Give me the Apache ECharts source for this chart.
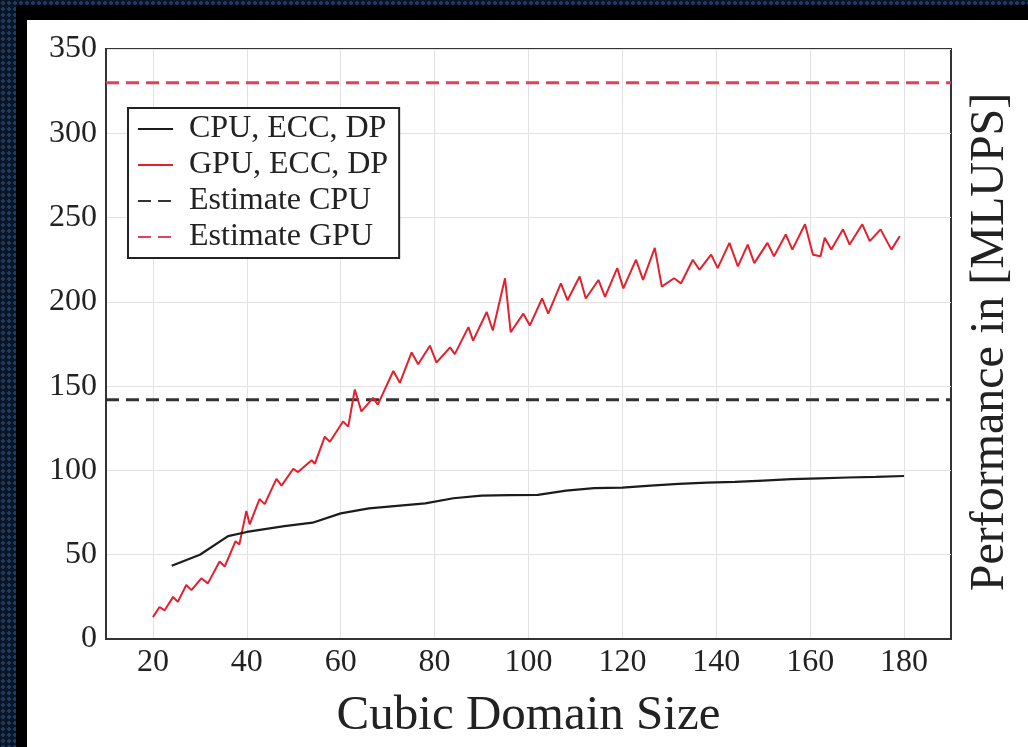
<!DOCTYPE html>
<html>
<head>
<meta charset="utf-8">
<script src="https://cdn.jsdelivr.net/npm/echarts@6/dist/echarts.min.js"></script>
<style>
  html, body { margin: 0; padding: 0; width: 1028px; height: 747px; overflow: hidden; background: #000; }
  .pat { position: absolute; background-color: #0a1526;
         background-image: radial-gradient(#1f3a60 38%, transparent 42%);
         background-size: 6px 6px; }
  #chart { position: absolute; left: 27px; top: 20px; width: 1001px; height: 727px; background: #fff; }
</style>
</head>
<body>
<div class="pat" style="left:0;top:0;width:16px;height:747px;"></div>
<div class="pat" style="left:0;top:0;width:1028px;height:5px;"></div>
<div id="chart"></div>
<script>
// ---- data ----
const sizeTicks = [20, 40, 60, 80, 100, 120, 140, 160, 180];
const perfTicks = [0, 50, 100, 150, 200, 250, 300, 350];
const sizeRange = [10, 190];

const cpuSize = [24, 30, 36, 40, 48, 54, 60, 66, 72, 78, 84, 90, 96, 102, 108, 114, 120, 126, 132, 138, 144, 150, 156, 162, 168, 174, 180];
const cpuPerf = [43.5, 50, 61, 63.5, 67, 69, 74.5, 77.5, 79, 80.5, 83.5, 85, 85.3, 85.5, 88, 89.5, 89.8, 91, 92, 92.8, 93.2, 94, 94.8, 95.3, 95.8, 96.2, 96.7];

const gpuSize = [20, 21.4, 22.5, 24.3, 25.3, 27.1, 28.2, 30.3, 31.7, 34.2, 35.3, 37.6, 38.4, 39.9, 40.6,
  42.7, 43.8, 46.3, 47.4, 49.9, 50.9, 53.8, 54.5, 56.6, 57.7, 60.5, 61.6, 63, 64.4, 66.9, 67.9,
  71.2, 72.6, 75.1, 76.5, 79, 80.4, 83.3, 84.3, 87.2, 88.2, 91.1, 92.4, 95, 96.2, 98.9, 100.3,
  102.9, 104.2, 106.9, 108.3, 110.9, 112.2, 114.9, 116.3, 118.9, 120.2, 122.9, 124.4, 126.9, 128.4,
  131, 132.5, 135, 136.4, 138.9, 140.3, 142.8, 144.6, 146.7, 148.1, 150.9, 152.3, 154.8, 156.2,
  158.9, 160.6, 162.2, 163.1, 164.5, 167, 168.4, 171.1, 172.7, 175, 177.3, 179.1];
const gpuPerf = [13, 19, 17, 25, 22, 32, 29, 36, 33, 46, 43, 58, 56, 76, 68,
  83, 80, 95, 91, 101, 99, 106, 104, 120, 117, 129, 126, 148, 135, 143, 139,
  159, 152, 170, 163, 174, 164, 173, 169, 185, 177, 194, 183, 214, 182, 193, 186,
  202, 193, 211, 201, 215, 202, 213, 203, 220, 208, 225, 213, 232, 209,
  214, 211, 225, 219, 228, 220, 235, 221, 234, 223, 235, 227, 240, 231,
  246, 228, 227, 238, 231, 243, 234, 246, 236, 243, 231, 239];

const estimateCpu = 142;
const estimateGpu = 330;

const seriesNames = ['CPU, ECC, DP', 'GPU, ECC, DP', 'Estimate CPU', 'Estimate GPU'];

// ---- chart ----
const FONT = '"Liberation Serif", "Times New Roman", serif';
const zip = (xs, ys) => xs.map((x, i) => [x, ys[i]]);

const chart = echarts.init(document.getElementById('chart'), null, { renderer: 'canvas' });
chart.setOption({
  animation: false,
  backgroundColor: '#fff',
  grid: { left: 79, top: 29, right: 77, bottom: 108, show: true, borderColor: '#333', borderWidth: 2, containLabel: false },
  xAxis: {
    type: 'value', min: sizeRange[0], max: sizeRange[1],
    name: 'Cubic Domain Size', nameLocation: 'middle', nameGap: 53,
    nameTextStyle: { fontFamily: FONT, fontSize: 49, color: '#222' },
    axisLine: { show: true, lineStyle: { color: '#333', width: 2 } },
    axisTick: { show: false, customValues: sizeTicks },
    axisLabel: { customValues: sizeTicks, fontFamily: FONT, fontSize: 32, color: '#222', margin: 8 },
    splitLine: { show: true, lineStyle: { color: '#e2e2e2', width: 1 } }
  },
  yAxis: {
    type: 'value', min: perfTicks[0], max: perfTicks[perfTicks.length - 1], interval: 50,
    axisLine: { show: true, lineStyle: { color: '#333', width: 2 } },
    axisTick: { show: false },
    axisLabel: { fontFamily: FONT, fontSize: 32, color: '#222', margin: 9 },
    splitLine: { show: true, lineStyle: { color: '#e2e2e2', width: 1 } }
  },
  legend: {
    orient: 'vertical', left: 101, top: 88,
    data: seriesNames,
    backgroundColor: '#fff', borderColor: '#222', borderWidth: 2, borderRadius: 0,
    padding: [4, 11, 4, 9],
    itemWidth: 35, itemHeight: 1, itemGap: 2,
    itemStyle: { opacity: 0, borderWidth: 0 },
    textStyle: { fontFamily: FONT, fontSize: 32, lineHeight: 34, color: '#222', padding: [0, 0, 0, 11] }
  },
  graphic: [{
    type: 'text', x: 963, y: 322, rotation: Math.PI / 2,
    style: { text: 'Performance in [MLUPS]', font: '48px ' + FONT, fill: '#222', align: 'center', verticalAlign: 'middle' }
  }],
  series: [
    { name: seriesNames[0], type: 'line', symbol: 'none', data: zip(cpuSize, cpuPerf),
      lineStyle: { color: '#1c1c1c', width: 2.2 }, itemStyle: { color: '#1c1c1c' }, z: 4 },
    { name: seriesNames[1], type: 'line', symbol: 'none', data: zip(gpuSize, gpuPerf),
      lineStyle: { color: '#e3202c', width: 2 }, itemStyle: { color: '#e3202c' }, z: 3 },
    { name: seriesNames[2], type: 'line', symbol: 'none', data: zip(sizeRange, [estimateCpu, estimateCpu]),
      lineStyle: { color: '#333', width: 3, type: [13, 7] }, itemStyle: { color: '#333' }, z: 2 },
    { name: seriesNames[3], type: 'line', symbol: 'none', data: zip(sizeRange, [estimateGpu, estimateGpu]),
      lineStyle: { color: '#e4405a', width: 3, type: [13, 7] }, itemStyle: { color: '#e4405a' }, z: 2 }
  ]
});
</script>
</body>
</html>
